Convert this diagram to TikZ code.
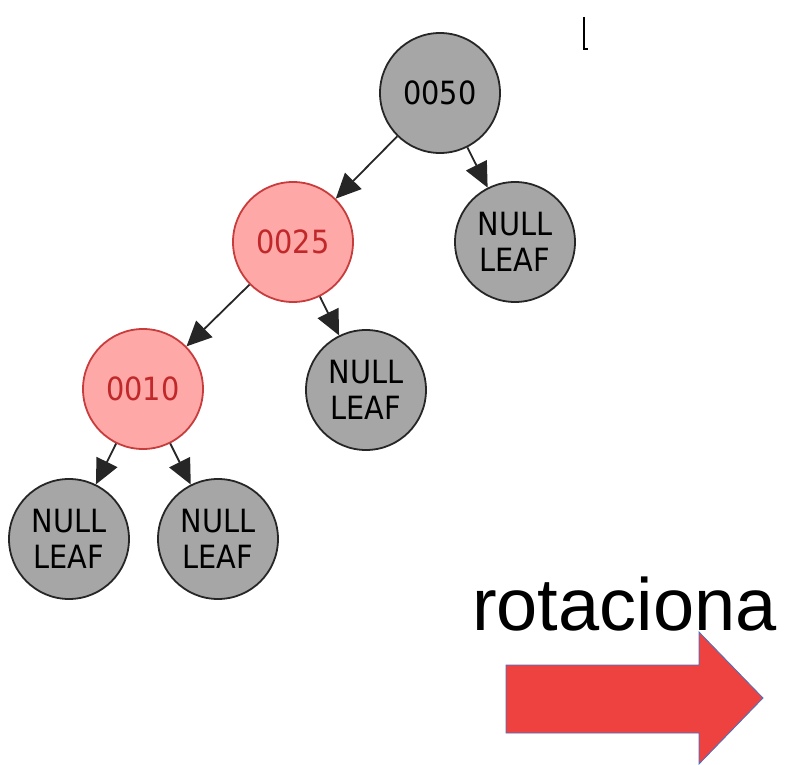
\documentclass[tikz,border=0pt]{standalone}
\usepackage{fontspec}
\setmainfont{Liberation Sans}
\newfontfamily\nodefont[FakeStretch=0.9]{DejaVu Sans}
\usetikzlibrary{arrows.meta}
\definecolor{leafgray}{HTML}{A6A6A6}
\definecolor{redfill}{HTML}{FFA8A8}
\definecolor{redline}{HTML}{C83C3C}
\definecolor{redtext}{HTML}{C0282A}
\definecolor{arrowred}{HTML}{EE4240}
\definecolor{arrowblue}{HTML}{4472C4}
\tikzset{
  graynode/.style={circle, draw=black!85, fill=leafgray, minimum size=120pt, inner sep=0pt,
    line width=1.8pt, align=center, font=\nodefont\fontsize{32}{36}\selectfont},
  rednode/.style={graynode, draw=redline, fill=redfill, text=redtext},
  treeedge/.style={line width=1.8pt, draw=black!85, -{Triangle[length=25pt,width=23pt]}}
}
\begin{document}
\begin{tikzpicture}[x=1pt,y=-1pt]
  \useasboundingbox (0,0) rectangle (787,765);
  % tree
  \node[graynode] (n50) at (440,93) {0050};
  \node[rednode] (n25) at (293,242) {0025};
  \node[graynode] (leafA) at (515,242) {NULL\\LEAF};
  \node[rednode] (n10) at (143,389) {0010};
  \node[graynode] (leafB) at (366,390) {NULL\\LEAF};
  \node[graynode] (leafC) at (69,539) {NULL\\LEAF};
  \node[graynode] (leafD) at (218,539) {NULL\\LEAF};
  \draw[treeedge] (n50) -- (n25);
  \draw[treeedge] (n50) -- (leafA);
  \draw[treeedge] (n25) -- (n10);
  \draw[treeedge] (n25) -- (leafB);
  \draw[treeedge] (n10) -- (leafC);
  \draw[treeedge] (n10) -- (leafD);
  % small mark top right
  \draw[line width=2pt] (584,17) -- (584,49) -- (588,49);
  % label and arrow
  \node[anchor=base west, inner sep=0pt, font=\fontsize{74}{82}\selectfont] (rot) at (472,630) {rotaciona};
  \draw[draw=arrowblue, fill=arrowred, line width=0.8pt]
    (506,665) -- (699,665) -- (699,632) -- (763,698) -- (699,764) -- (699,733) -- (506,733) -- cycle;
\end{tikzpicture}
\end{document}
